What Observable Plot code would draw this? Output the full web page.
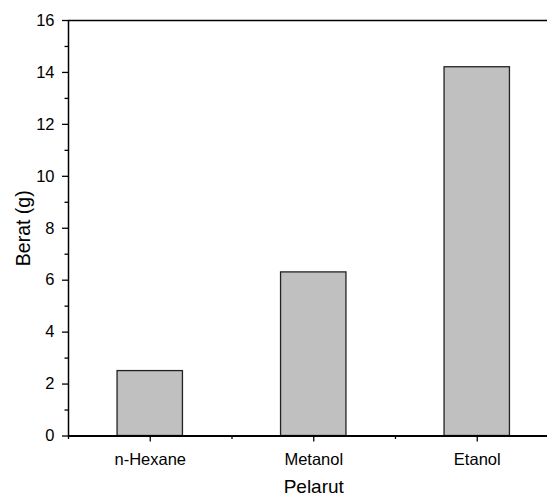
<!DOCTYPE html>
<html>
<head>
<meta charset="utf-8">
<script src="https://cdn.jsdelivr.net/npm/d3@7"></script>
<script src="https://cdn.jsdelivr.net/npm/@observablehq/plot@0.6"></script>
<style>
  html, body { margin: 0; padding: 0; background: white; overflow: hidden; }
  #chart { width: 547px; height: 497px; overflow: hidden; }
</style>
</head>
<body>
<div id="chart"></div>
<script>
const categories = ["n-Hexane", "Metanol", "Etanol"];
const values = [2.5, 6.3, 14.2];
const yTicks = [0, 2, 4, 6, 8, 10, 12, 14, 16];
const yMinorTicks = [1, 3, 5, 7, 9, 11, 13, 15];
const xMinorTicks = [0.5, 1.5, 2.5, 3.5];
const xLabel = "Pelarut";
const yLabel = "Berat (g)";

const data = categories.map((c, i) => ({name: c, pos: i + 1, value: values[i]}));
const halfBar = 0.2;

const chart = Plot.plot({
  width: 547,
  height: 497,
  marginLeft: 68,
  marginRight: 0,
  marginTop: 20,
  marginBottom: 61.5,
  style: {fontFamily: "'Liberation Sans', Arial, sans-serif", fontSize: "16.5px", color: "black", background: "white", overflow: "hidden"},
  x: {type: "linear", domain: [0.5, 3.5], range: [68, 558.5]},
  y: {domain: [0, 16]},
  marks: [
    Plot.rectY(data, {x1: d => d.pos - halfBar, x2: d => d.pos + halfBar, y: "value", fill: "#c0c0c0", stroke: "#222", strokeWidth: 1.3}),
    Plot.axisY({ticks: yTicks, tickSize: 6, tickPadding: 8, label: null, fontSize: 16.5, strokeWidth: 1.3}),
    Plot.axisY({ticks: yMinorTicks, tickSize: 3.5, tickFormat: () => "", label: null, strokeWidth: 1.3}),
    Plot.axisX({ticks: [1, 2, 3], tickFormat: i => categories[i - 1], tickSize: 6, tickPadding: 11, label: null, fontSize: 16.5, strokeWidth: 1.3}),
    Plot.axisX({ticks: xMinorTicks, tickSize: 3.5, tickFormat: () => "", label: null, strokeWidth: 1.3}),
    Plot.ruleY([0], {strokeWidth: 2.2}),
    Plot.ruleY([16], {strokeWidth: 1.5}),
    Plot.ruleX([0.5], {strokeWidth: 1.5}),
    Plot.text([xLabel], {x: 2, frameAnchor: "bottom", lineAnchor: "middle", textAnchor: "middle", dy: 50.5, fontSize: 19}),
    Plot.text([yLabel], {frameAnchor: "left", lineAnchor: "middle", textAnchor: "middle", rotate: -90, dx: -45, fontSize: 19.5})
  ]
});
document.getElementById("chart").append(chart);
</script>
</body>
</html>
